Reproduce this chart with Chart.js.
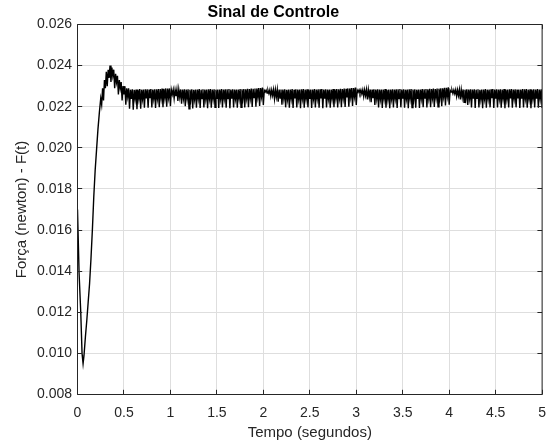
<!DOCTYPE html>
<html>
<head>
<meta charset="utf-8">
<script src="https://cdn.jsdelivr.net/npm/chart.js@4"></script>
<style>
  html, body { margin: 0; padding: 0; background: #fff; }
  #wrap { width: 556px; height: 445px; }
</style>
</head>
<body>
<div id="wrap"><canvas id="grafico" width="556" height="445"></canvas></div>
<script>
// Transitório inicial
const tempoTransitorio = [0, 0.017, 0.035, 0.049, 0.06, 0.07, 0.085,
  0.1, 0.115, 0.13, 0.145, 0.16, 0.175, 0.19, 0.205, 0.22, 0.235];
const forcaTransitorio = [0.0170, 0.0139, 0.0120, 0.0100, 0.0095, 0.0099, 0.0108,
  0.0116, 0.0125, 0.0134, 0.0146, 0.0160, 0.0176, 0.0189, 0.0199, 0.0209, 0.0217];

// Regime com ondulação (amostras a cada 0.01 s)
const tempoRegime = [
  0.25, 0.26, 0.27, 0.28, 0.29, 0.30, 0.31, 0.32, 0.33, 0.34, 0.35, 0.36, 0.37, 0.38, 0.39, 0.40, 0.41, 0.42, 0.43, 0.44, 0.45, 0.46, 0.47, 0.48, 0.49,
  0.50, 0.51, 0.52, 0.53, 0.54, 0.55, 0.56, 0.57, 0.58, 0.59, 0.60, 0.61, 0.62, 0.63, 0.64, 0.65, 0.66, 0.67, 0.68, 0.69, 0.70, 0.71, 0.72, 0.73, 0.74,
  0.75, 0.76, 0.77, 0.78, 0.79, 0.80, 0.81, 0.82, 0.83, 0.84, 0.85, 0.86, 0.87, 0.88, 0.89, 0.90, 0.91, 0.92, 0.93, 0.94, 0.95, 0.96, 0.97, 0.98, 0.99,
  1.00, 1.01, 1.02, 1.03, 1.04, 1.05, 1.06, 1.07, 1.08, 1.09, 1.10, 1.11, 1.12, 1.13, 1.14, 1.15, 1.16, 1.17, 1.18, 1.19, 1.20, 1.21, 1.22, 1.23, 1.24,
  1.25, 1.26, 1.27, 1.28, 1.29, 1.30, 1.31, 1.32, 1.33, 1.34, 1.35, 1.36, 1.37, 1.38, 1.39, 1.40, 1.41, 1.42, 1.43, 1.44, 1.45, 1.46, 1.47, 1.48, 1.49,
  1.50, 1.51, 1.52, 1.53, 1.54, 1.55, 1.56, 1.57, 1.58, 1.59, 1.60, 1.61, 1.62, 1.63, 1.64, 1.65, 1.66, 1.67, 1.68, 1.69, 1.70, 1.71, 1.72, 1.73, 1.74,
  1.75, 1.76, 1.77, 1.78, 1.79, 1.80, 1.81, 1.82, 1.83, 1.84, 1.85, 1.86, 1.87, 1.88, 1.89, 1.90, 1.91, 1.92, 1.93, 1.94, 1.95, 1.96, 1.97, 1.98, 1.99,
  2.00, 2.01, 2.02, 2.03, 2.04, 2.05, 2.06, 2.07, 2.08, 2.09, 2.10, 2.11, 2.12, 2.13, 2.14, 2.15, 2.16, 2.17, 2.18, 2.19, 2.20, 2.21, 2.22, 2.23, 2.24,
  2.25, 2.26, 2.27, 2.28, 2.29, 2.30, 2.31, 2.32, 2.33, 2.34, 2.35, 2.36, 2.37, 2.38, 2.39, 2.40, 2.41, 2.42, 2.43, 2.44, 2.45, 2.46, 2.47, 2.48, 2.49,
  2.50, 2.51, 2.52, 2.53, 2.54, 2.55, 2.56, 2.57, 2.58, 2.59, 2.60, 2.61, 2.62, 2.63, 2.64, 2.65, 2.66, 2.67, 2.68, 2.69, 2.70, 2.71, 2.72, 2.73, 2.74,
  2.75, 2.76, 2.77, 2.78, 2.79, 2.80, 2.81, 2.82, 2.83, 2.84, 2.85, 2.86, 2.87, 2.88, 2.89, 2.90, 2.91, 2.92, 2.93, 2.94, 2.95, 2.96, 2.97, 2.98, 2.99,
  3.00, 3.01, 3.02, 3.03, 3.04, 3.05, 3.06, 3.07, 3.08, 3.09, 3.10, 3.11, 3.12, 3.13, 3.14, 3.15, 3.16, 3.17, 3.18, 3.19, 3.20, 3.21, 3.22, 3.23, 3.24,
  3.25, 3.26, 3.27, 3.28, 3.29, 3.30, 3.31, 3.32, 3.33, 3.34, 3.35, 3.36, 3.37, 3.38, 3.39, 3.40, 3.41, 3.42, 3.43, 3.44, 3.45, 3.46, 3.47, 3.48, 3.49,
  3.50, 3.51, 3.52, 3.53, 3.54, 3.55, 3.56, 3.57, 3.58, 3.59, 3.60, 3.61, 3.62, 3.63, 3.64, 3.65, 3.66, 3.67, 3.68, 3.69, 3.70, 3.71, 3.72, 3.73, 3.74,
  3.75, 3.76, 3.77, 3.78, 3.79, 3.80, 3.81, 3.82, 3.83, 3.84, 3.85, 3.86, 3.87, 3.88, 3.89, 3.90, 3.91, 3.92, 3.93, 3.94, 3.95, 3.96, 3.97, 3.98, 3.99,
  4.00, 4.01, 4.02, 4.03, 4.04, 4.05, 4.06, 4.07, 4.08, 4.09, 4.10, 4.11, 4.12, 4.13, 4.14, 4.15, 4.16, 4.17, 4.18, 4.19, 4.20, 4.21, 4.22, 4.23, 4.24,
  4.25, 4.26, 4.27, 4.28, 4.29, 4.30, 4.31, 4.32, 4.33, 4.34, 4.35, 4.36, 4.37, 4.38, 4.39, 4.40, 4.41, 4.42, 4.43, 4.44, 4.45, 4.46, 4.47, 4.48, 4.49,
  4.50, 4.51, 4.52, 4.53, 4.54, 4.55, 4.56, 4.57, 4.58, 4.59, 4.60, 4.61, 4.62, 4.63, 4.64, 4.65, 4.66, 4.67, 4.68, 4.69, 4.70, 4.71, 4.72, 4.73, 4.74,
  4.75, 4.76, 4.77, 4.78, 4.79, 4.80, 4.81, 4.82, 4.83, 4.84, 4.85, 4.86, 4.87, 4.88, 4.89, 4.90, 4.91, 4.92, 4.93, 4.94, 4.95, 4.96, 4.97, 4.98, 4.99,
  5.00
];

const forcaRegime = [
  // 0.25 - 0.56: subida, pico e acomodação
  0.0224, 0.0221, 0.0229, 0.0223,
  0.0233, 0.0229, 0.0237, 0.0230,
  0.0238, 0.0234, 0.0240, 0.0232,
  0.0239, 0.0235, 0.0238, 0.0229,
  0.0236, 0.0232, 0.0235, 0.0226,
  0.0233, 0.0229, 0.0232, 0.0223,
  0.0230, 0.0226, 0.0230, 0.0221,
  0.0229, 0.0225, 0.0229, 0.0219,
  // 0.57 - 1.00
  0.02283, 0.02238, 0.02285, 0.02186,
  0.02282, 0.02240, 0.02284, 0.02188,
  0.02284, 0.02241, 0.02286, 0.02190,
  0.02283, 0.02239, 0.02284, 0.02195,
  0.02285, 0.02240, 0.02285, 0.02195,
  0.02284, 0.02242, 0.02286, 0.02196,
  0.02283, 0.02240, 0.02285, 0.02194,
  0.02285, 0.02241, 0.02286, 0.02197,
  0.02286, 0.02243, 0.02288, 0.02198,
  0.02287, 0.02244, 0.02289, 0.02200,
  0.02288, 0.02245, 0.02289, 0.02203,
  // 1.01 - 2.00
  0.02282, 0.02260, 0.02283, 0.02240,
  0.02282, 0.02252, 0.02284, 0.02228,
  0.02283, 0.02246, 0.02284, 0.02215,
  0.02283, 0.02241, 0.02285, 0.02203,
  0.02284, 0.02240, 0.02285, 0.02190,
  0.02283, 0.02239, 0.02285, 0.02192,
  0.02282, 0.02238, 0.02284, 0.02195,
  0.02284, 0.02241, 0.02286, 0.02194,
  0.02283, 0.02240, 0.02285, 0.02196,
  0.02283, 0.02239, 0.02284, 0.02193,
  0.02285, 0.02241, 0.02286, 0.02195,
  0.02284, 0.02240, 0.02285, 0.02197,
  0.02283, 0.02238, 0.02284, 0.02194,
  0.02284, 0.02240, 0.02286, 0.02196,
  0.02283, 0.02241, 0.02285, 0.02195,
  0.02285, 0.02240, 0.02286, 0.02193,
  0.02284, 0.02239, 0.02285, 0.02196,
  0.02283, 0.02240, 0.02284, 0.02195,
  0.02284, 0.02241, 0.02286, 0.02197,
  0.02285, 0.02242, 0.02286, 0.02196,
  0.02285, 0.02242, 0.02287, 0.02198,
  0.02286, 0.02243, 0.02288, 0.02199,
  0.02287, 0.02245, 0.02289, 0.02200,
  0.02289, 0.02248, 0.02291, 0.02204,
  0.02291, 0.02250, 0.02293, 0.02208,
  // 2.01 - 3.00
  0.02280, 0.02272, 0.02281, 0.02266,
  0.02280, 0.02264, 0.02282, 0.02252,
  0.02281, 0.02255, 0.02283, 0.02238,
  0.02282, 0.02247, 0.02283, 0.02224,
  0.02283, 0.02242, 0.02284, 0.02210,
  0.02283, 0.02240, 0.02285, 0.02197,
  0.02282, 0.02238, 0.02284, 0.02195,
  0.02284, 0.02241, 0.02286, 0.02194,
  0.02283, 0.02240, 0.02285, 0.02196,
  0.02283, 0.02239, 0.02284, 0.02193,
  0.02285, 0.02241, 0.02286, 0.02195,
  0.02284, 0.02240, 0.02285, 0.02197,
  0.02283, 0.02238, 0.02284, 0.02194,
  0.02284, 0.02240, 0.02286, 0.02196,
  0.02283, 0.02241, 0.02285, 0.02195,
  0.02285, 0.02240, 0.02286, 0.02193,
  0.02284, 0.02239, 0.02285, 0.02196,
  0.02283, 0.02240, 0.02284, 0.02195,
  0.02284, 0.02241, 0.02286, 0.02197,
  0.02285, 0.02242, 0.02286, 0.02196,
  0.02285, 0.02242, 0.02287, 0.02198,
  0.02286, 0.02243, 0.02288, 0.02199,
  0.02287, 0.02245, 0.02289, 0.02200,
  0.02289, 0.02248, 0.02291, 0.02204,
  0.02291, 0.02250, 0.02293, 0.02208,
  // 3.01 - 4.00
  0.02281, 0.02271, 0.02282, 0.02265,
  0.02281, 0.02262, 0.02282, 0.02250,
  0.02282, 0.02254, 0.02283, 0.02236,
  0.02282, 0.02246, 0.02284, 0.02222,
  0.02283, 0.02241, 0.02285, 0.02208,
  0.02284, 0.02240, 0.02285, 0.02196,
  0.02283, 0.02239, 0.02284, 0.02194,
  0.02284, 0.02241, 0.02286, 0.02195,
  0.02282, 0.02238, 0.02284, 0.02193,
  0.02284, 0.02240, 0.02285, 0.02196,
  0.02283, 0.02241, 0.02285, 0.02194,
  0.02285, 0.02240, 0.02286, 0.02197,
  0.02284, 0.02239, 0.02285, 0.02195,
  0.02283, 0.02240, 0.02284, 0.02193,
  0.02285, 0.02241, 0.02286, 0.02196,
  0.02284, 0.02240, 0.02285, 0.02195,
  0.02283, 0.02238, 0.02284, 0.02194,
  0.02284, 0.02241, 0.02286, 0.02197,
  0.02285, 0.02242, 0.02286, 0.02196,
  0.02285, 0.02242, 0.02287, 0.02198,
  0.02286, 0.02243, 0.02288, 0.02199,
  0.02286, 0.02244, 0.02288, 0.02200,
  0.02288, 0.02246, 0.02290, 0.02202,
  0.02290, 0.02249, 0.02292, 0.02206,
  0.02292, 0.02251, 0.02294, 0.02210,
  // 4.01 - 5.00
  0.02280, 0.02271, 0.02281, 0.02264,
  0.02281, 0.02263, 0.02282, 0.02250,
  0.02281, 0.02254, 0.02283, 0.02236,
  0.02282, 0.02246, 0.02284, 0.02222,
  0.02283, 0.02241, 0.02285, 0.02208,
  0.02283, 0.02240, 0.02285, 0.02196,
  0.02284, 0.02239, 0.02285, 0.02194,
  0.02283, 0.02241, 0.02285, 0.02196,
  0.02282, 0.02238, 0.02284, 0.02193,
  0.02284, 0.02240, 0.02286, 0.02195,
  0.02283, 0.02240, 0.02284, 0.02197,
  0.02285, 0.02241, 0.02286, 0.02194,
  0.02284, 0.02239, 0.02285, 0.02196,
  0.02283, 0.02240, 0.02285, 0.02195,
  0.02284, 0.02241, 0.02286, 0.02193,
  0.02283, 0.02239, 0.02284, 0.02196,
  0.02285, 0.02240, 0.02286, 0.02195,
  0.02284, 0.02241, 0.02285, 0.02197,
  0.02283, 0.02240, 0.02284, 0.02194,
  0.02284, 0.02239, 0.02286, 0.02196,
  0.02285, 0.02241, 0.02286, 0.02195,
  0.02284, 0.02240, 0.02285, 0.02193,
  0.02283, 0.02241, 0.02285, 0.02196,
  0.02284, 0.02239, 0.02286, 0.02195,
  0.02284, 0.02240, 0.02285, 0.02194
];

const ticksX = [0, 0.5, 1, 1.5, 2, 2.5, 3, 3.5, 4, 4.5, 5];
const ticksY = [0.008, 0.010, 0.012, 0.014, 0.016, 0.018, 0.020, 0.022, 0.024, 0.026];

const pontos = tempoTransitorio.map((t, i) => ({ x: t, y: forcaTransitorio[i] }))
  .concat(tempoRegime.map((t, i) => ({ x: t, y: forcaRegime[i] })));

const fonte = 'Liberation Sans, Arial, Helvetica, sans-serif';
const corEixo = '#262626';

// caixa estilo MATLAB com marcas para dentro
const caixaMatlab = {
  id: 'caixaMatlab',
  afterDraw(chart) {
    const { ctx, chartArea: a, scales: { x, y } } = chart;
    const len = 4.7;
    ctx.save();
    ctx.strokeStyle = corEixo;
    ctx.lineWidth = 1;
    ctx.beginPath();
    ctx.rect(a.left, a.top, a.right - a.left, a.bottom - a.top);
    ticksX.forEach(v => {
      const px = Math.round(x.getPixelForValue(v) - 0.5) + 0.5;
      ctx.moveTo(px, a.bottom); ctx.lineTo(px, a.bottom - len);
      ctx.moveTo(px, a.top); ctx.lineTo(px, a.top + len);
    });
    ticksY.forEach(v => {
      const py = Math.round(y.getPixelForValue(v) - 0.5) + 0.5;
      ctx.moveTo(a.left, py); ctx.lineTo(a.left + len, py);
      ctx.moveTo(a.right, py); ctx.lineTo(a.right - len, py);
    });
    ctx.stroke();
    ctx.restore();
  }
};

new Chart(document.getElementById('grafico'), {
  type: 'line',
  data: {
    datasets: [{
      data: pontos,
      borderColor: '#000',
      borderWidth: 1.4,
      pointRadius: 0,
      tension: 0,
      fill: false
    }]
  },
  options: {
    responsive: false,
    animation: false,
    layout: { padding: { left: 0, right: 9.5, top: 0, bottom: 0 } },
    plugins: {
      legend: { display: false },
      tooltip: { enabled: false },
      title: {
        display: true,
        text: 'Sinal de Controle',
        color: '#000',
        font: { family: fonte, size: 16, weight: 'bold', lineHeight: 1.2 },
        padding: { top: 2.7, bottom: 2.6 }
      }
    },
    scales: {
      x: {
        type: 'linear',
        min: 0,
        max: 5,
        afterBuildTicks: s => { s.ticks = ticksX.map(v => ({ value: v })); },
        afterFit: s => { s.height = 50.5; },
        ticks: {
          autoSkip: false,
          maxRotation: 0,
          padding: 10,
          color: corEixo,
          font: { family: fonte, size: 14 },
          callback: v => String(v)
        },
        grid: { color: '#dedede', drawTicks: false },
        border: { display: false },
        title: {
          display: true,
          text: 'Tempo (segundos)',
          color: corEixo,
          font: { family: fonte, size: 15, lineHeight: 1.2 },
          padding: { top: 0, bottom: 2.9 }
        }
      },
      y: {
        type: 'linear',
        min: 0.008,
        max: 0.026,
        afterBuildTicks: s => { s.ticks = ticksY.map(v => ({ value: v })); },
        afterFit: s => { s.width = 77.5; },
        ticks: {
          autoSkip: false,
          padding: 5.5,
          color: corEixo,
          font: { family: fonte, size: 14 },
          callback: v => v.toFixed(3)
        },
        grid: { color: '#dedede', drawTicks: false },
        border: { display: false },
        title: {
          display: true,
          text: 'Força (newton) - F(t)',
          color: corEixo,
          font: { family: fonte, size: 15, lineHeight: 1.2 },
          padding: { top: 13, bottom: 0 }
        }
      }
    }
  },
  plugins: [caixaMatlab]
});
</script>
</body>
</html>
